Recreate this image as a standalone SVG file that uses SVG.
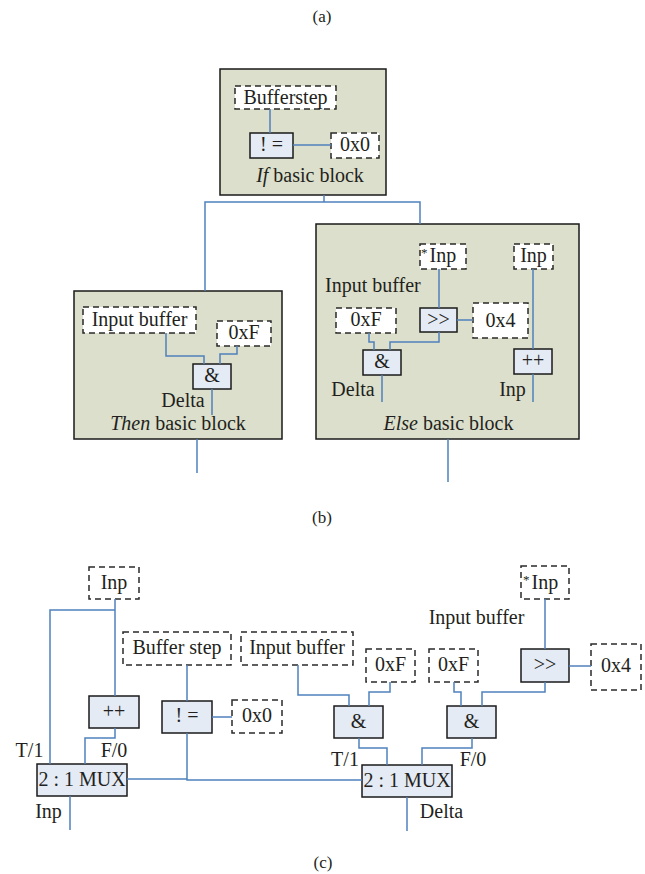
<svg xmlns="http://www.w3.org/2000/svg" width="645" height="874" viewBox="0 0 645 874">
  <style>
    text { font-family: "Liberation Serif", "DejaVu Serif", serif; font-size: 20px; fill: #231f20; }
    .c { text-anchor: middle; }
    .cap { font-size: 17px; }
    .blk { fill: #dcdfcb; stroke: #1a1a1a; stroke-width: 1.5; }
    .op { fill: #e4ebf5; stroke: #1a1a1a; stroke-width: 1.5; }
    .val { fill: #ffffff; stroke: #2a2a2a; stroke-width: 1.5; stroke-dasharray: 6 4; }
    .wire { fill: none; stroke: #4f81bd; stroke-width: 1.5; }
    .sup { font-size: 13px; }
  </style>

  <!-- section captions -->
  <text class="c cap" x="322" y="22">(a)</text>
  <text class="c cap" x="322" y="523">(b)</text>
  <text class="c cap" x="323" y="868">(c)</text>

  <!-- ===== (a)/(b): basic blocks ===== -->
  <g id="if-block">
    <rect class="blk" x="220" y="69" width="166" height="126"/>
    <text class="c" x="310" y="182"><tspan font-style="italic">If</tspan> basic block</text>
  </g>
  <g id="if-bufferstep">
    <rect class="val" x="235" y="86" width="101" height="23"/>
    <text class="c" x="285.5" y="104">Bufferstep</text>
  </g>
  <g id="if-neq">
    <rect class="op" x="250" y="133" width="43" height="25"/>
    <text class="c" x="271.5" y="151">! =</text>
  </g>
  <g id="if-0x0">
    <rect class="val" x="331" y="133" width="48" height="25"/>
    <text class="c" x="355" y="151">0x0</text>
  </g>

  <g id="then-block">
    <rect class="blk" x="74" y="291" width="208" height="148"/>
    <text class="c" x="178" y="430"><tspan font-style="italic">Then</tspan> basic block</text>
    <text class="c" x="183" y="407">Delta</text>
  </g>
  <g id="then-inputbuffer">
    <rect class="val" x="83" y="307" width="113" height="26"/>
    <text class="c" x="139.5" y="326">Input buffer</text>
  </g>
  <g id="then-0xF">
    <rect class="val" x="217" y="321" width="54" height="25"/>
    <text class="c" x="244" y="339">0xF</text>
  </g>
  <g id="then-and">
    <rect class="op" x="193" y="364" width="38" height="25"/>
    <text class="c" x="212" y="382">&amp;</text>
  </g>

  <g id="else-block">
    <rect class="blk" x="316" y="224" width="263" height="215"/>
    <text class="c" x="448.5" y="430"><tspan font-style="italic">Else</tspan> basic block</text>
    <text x="325" y="292">Input buffer</text>
    <text class="c" x="353" y="396">Delta</text>
    <text class="c" x="512.5" y="396">Inp</text>
  </g>
  <g id="else-deref-inp">
    <rect class="val" x="420" y="244" width="46" height="25"/>
    <text x="421" y="262"><tspan class="sup" dy="-5">*</tspan><tspan dx="2" dy="5">Inp</tspan></text>
  </g>
  <g id="else-inp">
    <rect class="val" x="514" y="244" width="39" height="25"/>
    <text class="c" x="533.5" y="262">Inp</text>
  </g>
  <g id="else-0xF">
    <rect class="val" x="336" y="308" width="60" height="25"/>
    <text class="c" x="366" y="326">0xF</text>
  </g>
  <g id="else-shr">
    <rect class="op" x="420" y="308" width="37" height="24"/>
    <text class="c" x="438.5" y="326">&gt;&gt;</text>
  </g>
  <g id="else-0x4">
    <rect class="val" x="473" y="303" width="55" height="35"/>
    <text class="c" x="500.5" y="327">0x4</text>
  </g>
  <g id="else-and">
    <rect class="op" x="363" y="350" width="38" height="25"/>
    <text class="c" x="382" y="368">&amp;</text>
  </g>
  <g id="else-inc">
    <rect class="op" x="514" y="349" width="38" height="25"/>
    <text class="c" x="533" y="367">++</text>
  </g>

  <!-- ===== (c): multiplexed data path ===== -->
  <g id="c-inp">
    <rect class="val" x="89" y="567" width="50" height="32"/>
    <text class="c" x="114" y="589">Inp</text>
  </g>
  <g id="c-inc">
    <rect class="op" x="89" y="696" width="50" height="32"/>
    <text class="c" x="114" y="718">++</text>
  </g>
  <g id="c-mux1">
    <rect class="op" x="37" y="764" width="90" height="32"/>
    <text class="c" x="82" y="786">2 : 1 MUX</text>
    <text class="c" x="29.5" y="757">T/1</text>
    <text class="c" x="114" y="757">F/0</text>
    <text class="c" x="48.5" y="818">Inp</text>
  </g>
  <g id="c-bufferstep">
    <rect class="val" x="123" y="632" width="108" height="33"/>
    <text class="c" x="177" y="654">Buffer step</text>
  </g>
  <g id="c-neq">
    <rect class="op" x="162" y="701" width="50" height="32"/>
    <text class="c" x="187" y="722">! =</text>
  </g>
  <g id="c-0x0">
    <rect class="val" x="232" y="700" width="50" height="33"/>
    <text class="c" x="257" y="722">0x0</text>
  </g>
  <g id="c-inputbuffer">
    <rect class="val" x="241" y="632" width="112" height="33"/>
    <text class="c" x="297" y="654">Input buffer</text>
  </g>
  <g id="c-0xF-a">
    <rect class="val" x="366" y="649" width="49" height="33"/>
    <text class="c" x="390.5" y="671">0xF</text>
  </g>
  <g id="c-and-a">
    <rect class="op" x="334" y="706" width="49" height="32"/>
    <text class="c" x="358.5" y="728">&amp;</text>
  </g>
  <g id="c-0xF-b">
    <rect class="val" x="429" y="649" width="49" height="33"/>
    <text class="c" x="453.5" y="671">0xF</text>
  </g>
  <g id="c-and-b">
    <rect class="op" x="447" y="706" width="49" height="32"/>
    <text class="c" x="471.5" y="728">&amp;</text>
  </g>
  <g id="c-deref-inp">
    <rect class="val" x="521" y="566" width="48" height="33"/>
    <text x="523" y="589"><tspan class="sup" dy="-5">*</tspan><tspan dx="2" dy="5">Inp</tspan></text>
    <text class="c" x="476.5" y="624">Input buffer</text>
  </g>
  <g id="c-shr">
    <rect class="op" x="521" y="649" width="48" height="33"/>
    <text class="c" x="545" y="671">&gt;&gt;</text>
  </g>
  <g id="c-0x4">
    <rect class="val" x="591" y="644" width="50" height="46"/>
    <text class="c" x="616" y="672">0x4</text>
  </g>
  <g id="c-mux2">
    <rect class="op" x="362" y="765" width="90" height="32"/>
    <text class="c" x="407" y="787">2 : 1 MUX</text>
    <text class="c" x="345" y="766">T/1</text>
    <text class="c" x="473" y="766">F/0</text>
    <text class="c" x="441.5" y="818">Delta</text>
  </g>

  <!-- connectors -->
  <g id="connectors">
    <!-- if block -->
    <path class="wire" d="M270 109V133"/>
    <path class="wire" d="M293 145H331"/>
    <path class="wire" d="M324 195V202M205 291V202H420V224"/>
    <!-- then block -->
    <path class="wire" d="M166 333V356H204V364"/>
    <path class="wire" d="M237 346V354H220V364"/>
    <path class="wire" d="M212 389V415"/>
    <path class="wire" d="M197 439V473"/>
    <!-- else block -->
    <path class="wire" d="M439 269V308"/>
    <path class="wire" d="M457 320H473"/>
    <path class="wire" d="M439 332V342H390V350"/>
    <path class="wire" d="M369 333V342H374V350"/>
    <path class="wire" d="M382 375V402"/>
    <path class="wire" d="M533 269V349"/>
    <path class="wire" d="M533 374V402"/>
    <path class="wire" d="M448 439V482"/>
    <!-- (c) -->
    <path class="wire" d="M115 599V696"/>
    <path class="wire" d="M115 610H50V764"/>
    <path class="wire" d="M115 728V738H85V764"/>
    <path class="wire" d="M70 796V830"/>
    <path class="wire" d="M187 665V701"/>
    <path class="wire" d="M212 717H232"/>
    <path class="wire" d="M127 779H187M187 733V780H362"/>
    <path class="wire" d="M298 665V695H349V706"/>
    <path class="wire" d="M390 682V692H369V706"/>
    <path class="wire" d="M454 682V692H461V706"/>
    <path class="wire" d="M545 599V649"/>
    <path class="wire" d="M569 666H591"/>
    <path class="wire" d="M545 682V692H482V706"/>
    <path class="wire" d="M359 738V748H387V765"/>
    <path class="wire" d="M472 738V748H422V765"/>
    <path class="wire" d="M407 797V831"/>
  </g>
</svg>
